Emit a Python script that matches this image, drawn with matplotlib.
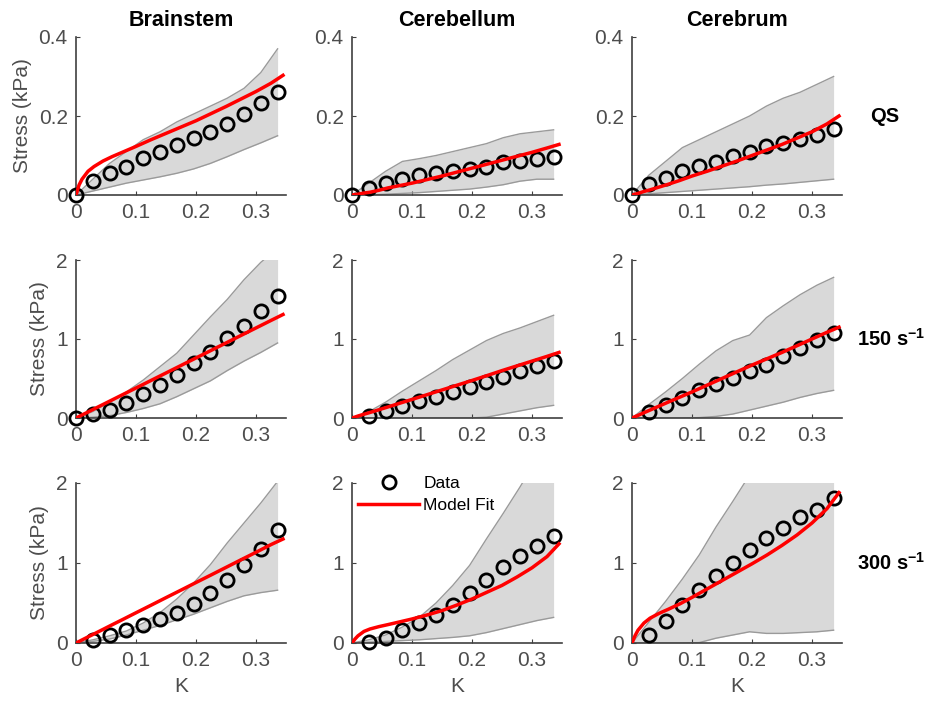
import matplotlib

matplotlib.use("Agg")

import matplotlib.pyplot as plt

plt.rcParams["font.family"] = ["Liberation Sans", "DejaVu Sans"]
plt.rcParams["mathtext.fontset"] = "custom"
plt.rcParams["mathtext.rm"] = "Liberation Sans"
plt.rcParams["mathtext.bf"] = "Liberation Sans:bold"

regions = ["Brainstem", "Cerebellum", "Cerebrum"]
rates = ["QS", "150 s$^{\\mathbf{-1}}$", "300 s$^{\\mathbf{-1}}$"]
y_max = [0.4, 2, 2]
y_ticks = [[0, 0.2, 0.4], [0, 1, 2], [0, 1, 2]]
y_tick_labels = [["0", "0.2", "0.4"], ["0", "1", "2"], ["0", "1", "2"]]
x_ticks = [0, 0.1, 0.2, 0.3]
x_tick_labels = ["0", "0.1", "0.2", "0.3"]

# strain points of the measurements (and of the corridor)
data_x = [0, 0.028, 0.056, 0.084, 0.112, 0.14, 0.168, 0.196, 0.224, 0.252, 0.28, 0.308, 0.336]
fit_x = [0, 0.005, 0.01, 0.02, 0.03, 0.045, 0.06, 0.08, 0.1, 0.125, 0.15, 0.175,
         0.2, 0.225, 0.25, 0.275, 0.3, 0.325, 0.345]

# mean data (kPa)
brainstem_qs = [0, 0.035, 0.055, 0.072, 0.093, 0.11, 0.127, 0.144, 0.16, 0.18, 0.205, 0.232, 0.26]
cerebellum_qs = [0, 0.017, 0.03, 0.04, 0.05, 0.056, 0.06, 0.065, 0.072, 0.083, 0.087, 0.09, 0.097]
cerebrum_qs = [0, 0.027, 0.042, 0.06, 0.073, 0.084, 0.098, 0.108, 0.124, 0.132, 0.142, 0.153, 0.168]
brainstem_150 = [0, 0.05, 0.105, 0.19, 0.3, 0.42, 0.54, 0.695, 0.84, 1.01, 1.16, 1.35, 1.54]
cerebellum_150 = [0.02, 0.085, 0.155, 0.21, 0.265, 0.325, 0.39, 0.455, 0.525, 0.59, 0.655, 0.725]
cerebrum_150 = [0.07, 0.17, 0.25, 0.35, 0.43, 0.51, 0.59, 0.67, 0.78, 0.88, 0.99, 1.07]
brainstem_300 = [0.04, 0.1, 0.16, 0.22, 0.3, 0.38, 0.49, 0.63, 0.79, 0.97, 1.17, 1.41]
cerebellum_300 = [0.01, 0.065, 0.16, 0.255, 0.35, 0.47, 0.63, 0.79, 0.95, 1.09, 1.21, 1.34]
cerebrum_300 = [0.1, 0.28, 0.47, 0.66, 0.84, 1.0, 1.16, 1.31, 1.44, 1.58, 1.66, 1.81]

# model fit (kPa) at fit_x
fit_brainstem_qs = [0, 0.025, 0.04, 0.06, 0.072, 0.086, 0.097, 0.11, 0.123, 0.14, 0.156, 0.172,
                    0.188, 0.206, 0.224, 0.243, 0.262, 0.283, 0.303]
fit_cerebellum_qs = [0, 0.001, 0.002, 0.005, 0.007, 0.012, 0.018, 0.024, 0.03, 0.039, 0.048, 0.058,
                     0.068, 0.078, 0.088, 0.098, 0.108, 0.119, 0.128]
fit_cerebrum_qs = [0, 0.002, 0.004, 0.009, 0.013, 0.02, 0.027, 0.037, 0.048, 0.06, 0.073, 0.086,
                   0.1, 0.114, 0.128, 0.144, 0.16, 0.18, 0.2]
fit_brainstem_150 = [0, 0.019, 0.038, 0.076, 0.114, 0.171, 0.228, 0.304, 0.38, 0.475, 0.57, 0.665,
                     0.76, 0.855, 0.95, 1.045, 1.14, 1.235, 1.31]
fit_cerebellum_150 = [0, 0.012, 0.025, 0.048, 0.07, 0.105, 0.14, 0.188, 0.235, 0.295, 0.355, 0.415,
                      0.475, 0.537, 0.6, 0.66, 0.72, 0.78, 0.83]
fit_cerebrum_150 = [0, 0.017, 0.033, 0.067, 0.1, 0.15, 0.2, 0.265, 0.33, 0.415, 0.5, 0.585,
                    0.67, 0.75, 0.83, 0.915, 1.0, 1.085, 1.15]
fit_brainstem_300 = [0, 0.019, 0.038, 0.076, 0.113, 0.17, 0.227, 0.302, 0.378, 0.472, 0.567, 0.661,
                     0.756, 0.85, 0.945, 1.04, 1.134, 1.23, 1.3]
fit_cerebellum_300 = [0, 0.05, 0.09, 0.145, 0.175, 0.205, 0.23, 0.265, 0.3, 0.35, 0.405, 0.475,
                      0.55, 0.635, 0.72, 0.825, 0.94, 1.08, 1.24]
fit_cerebrum_300 = [0, 0.09, 0.16, 0.25, 0.31, 0.37, 0.42, 0.49, 0.57, 0.675, 0.78, 0.885,
                    0.99, 1.1, 1.22, 1.35, 1.5, 1.68, 1.88]

# corridor bounds (kPa) at data_x
upper_brainstem_qs = [0, 0.04, 0.08, 0.11, 0.14, 0.16, 0.185, 0.205, 0.225, 0.245, 0.27, 0.31, 0.37]
lower_brainstem_qs = [0, 0.01, 0.02, 0.03, 0.038, 0.046, 0.055, 0.066, 0.08, 0.097, 0.115, 0.132, 0.15]
upper_cerebellum_qs = [0, 0.03, 0.06, 0.085, 0.092, 0.1, 0.11, 0.12, 0.13, 0.145, 0.155, 0.16, 0.165]
lower_cerebellum_qs = [0, 0, 0.002, 0.004, 0.006, 0.009, 0.012, 0.015, 0.02, 0.026, 0.035, 0.04, 0.04]
upper_cerebrum_qs = [0, 0.05, 0.085, 0.12, 0.14, 0.16, 0.18, 0.2, 0.225, 0.245, 0.26, 0.28, 0.3]
lower_cerebrum_qs = [0, 0.003, 0.006, 0.009, 0.012, 0.015, 0.018, 0.021, 0.025, 0.028, 0.032, 0.036, 0.04]
upper_brainstem_150 = [0, 0.08, 0.2, 0.33, 0.48, 0.65, 0.82, 1.05, 1.28, 1.5, 1.75, 1.97, 2.15]
lower_brainstem_150 = [0, 0.01, 0.03, 0.07, 0.12, 0.18, 0.27, 0.37, 0.47, 0.6, 0.72, 0.83, 0.95]
upper_cerebellum_150 = [0, 0.08, 0.2, 0.34, 0.47, 0.6, 0.74, 0.86, 0.98, 1.07, 1.14, 1.22, 1.3]
lower_cerebellum_150 = [0, 0, 0, 0, 0, 0, 0, 0, 0.01, 0.05, 0.09, 0.13, 0.16]
upper_cerebrum_150 = [0, 0.17, 0.33, 0.5, 0.68, 0.85, 0.98, 1.05, 1.27, 1.42, 1.56, 1.68, 1.78]
lower_cerebrum_150 = [0, 0, 0, 0, 0.005, 0.02, 0.05, 0.1, 0.15, 0.2, 0.26, 0.31, 0.35]
upper_brainstem_300 = [0, 0.04, 0.09, 0.15, 0.25, 0.38, 0.55, 0.75, 0.98, 1.25, 1.5, 1.75, 2.02]
lower_brainstem_300 = [0, 0.02, 0.05, 0.1, 0.16, 0.22, 0.29, 0.36, 0.44, 0.52, 0.59, 0.63, 0.66]
upper_cerebellum_300 = [0, 0.04, 0.1, 0.2, 0.32, 0.5, 0.72, 0.97, 1.3, 1.62, 1.95, 2.3, 2.6]
lower_cerebellum_300 = [0, 0.01, 0.02, 0.03, 0.04, 0.055, 0.07, 0.09, 0.13, 0.18, 0.23, 0.28, 0.32]
upper_cerebrum_300 = [0, 0.26, 0.52, 0.8, 1.1, 1.45, 1.77, 2.1, 2.4, 2.7, 3.0, 3.3, 3.6]
lower_cerebrum_300 = [0, 0, 0, 0, 0.005, 0.06, 0.1, 0.14, 0.12, 0.12, 0.13, 0.14, 0.16]

data = [
    [brainstem_qs, cerebellum_qs, cerebrum_qs],
    [brainstem_150, cerebellum_150, cerebrum_150],
    [brainstem_300, cerebellum_300, cerebrum_300],
]
fits = [
    [fit_brainstem_qs, fit_cerebellum_qs, fit_cerebrum_qs],
    [fit_brainstem_150, fit_cerebellum_150, fit_cerebrum_150],
    [fit_brainstem_300, fit_cerebellum_300, fit_cerebrum_300],
]
uppers = [
    [upper_brainstem_qs, upper_cerebellum_qs, upper_cerebrum_qs],
    [upper_brainstem_150, upper_cerebellum_150, upper_cerebrum_150],
    [upper_brainstem_300, upper_cerebellum_300, upper_cerebrum_300],
]
lowers = [
    [lower_brainstem_qs, lower_cerebellum_qs, lower_cerebrum_qs],
    [lower_brainstem_150, lower_cerebellum_150, lower_cerebrum_150],
    [lower_brainstem_300, lower_cerebellum_300, lower_cerebrum_300],
]

W, H = 933, 703
fig = plt.figure(figsize=(W / 100, H / 100), dpi=100)

# axes placement in pixels, measured on the reference
lefts = [76, 352, 632]
width = 210
rows_px = [(37, 195), (260, 418), (483, 643)]
rate_label_x = [870, 857, 857]
axis_grey = "#404040"
label_grey = "#4d4d4d"

for r in range(3):
    top, bottom = rows_px[r]
    for c in range(3):
        ax = fig.add_axes([lefts[c] / W, 1 - bottom / H, width / W, (bottom - top) / H])
        ys = data[r][c]
        xs = data_x[len(data_x) - len(ys):]
        ax.fill_between(data_x, lowers[r][c], uppers[r][c], color="#d9d9d9", lw=0)
        ax.plot(data_x, uppers[r][c], color="#9a9a9a", lw=1)
        ax.plot(data_x, lowers[r][c], color="#9a9a9a", lw=1)
        ax.plot(xs, ys, "o", ms=9.5, mfc="none", mec="black", mew=2,
                label="Data", clip_on=False, zorder=4)
        ax.plot(fit_x, fits[r][c], color="red", lw=2.5, label="Model Fit", zorder=5)

        ax.set_xlim(0, 0.35)
        ax.set_ylim(0, y_max[r])
        ax.set_xticks(x_ticks)
        ax.set_xticklabels(x_tick_labels)
        ax.set_yticks(y_ticks[r])
        ax.set_yticklabels(y_tick_labels[r])
        for side in ("top", "right"):
            ax.spines[side].set_visible(False)
        for side in ("left", "bottom"):
            ax.spines[side].set_color(axis_grey)
            ax.spines[side].set_linewidth(1.2)
        ax.tick_params(direction="in", length=3, colors=axis_grey,
                       labelsize=15, labelcolor=label_grey, pad=6)

        if c == 0:
            ax.set_ylabel("Stress (kPa)", fontsize=15, color=label_grey, labelpad=5)
        if r == 2:
            ax.set_xlabel("K", fontsize=15, color=label_grey, labelpad=5)
        if r == 0:
            ax.set_title(regions[c], fontsize=15.5, fontweight="bold", pad=8)
        if c == 2:
            fig.text(rate_label_x[r] / W, 1 - (top + bottom) / 2 / H, rates[r],
                     fontsize=14.5, fontweight="bold", va="center", ha="left")
        if r == 2 and c == 1:
            ax.legend(loc="upper left", bbox_to_anchor=(-0.045, 1.145), frameon=False,
                      fontsize=12.5, handlelength=3.5, handletextpad=0.25,
                      labelspacing=0.4)

fig.savefig("out.png", dpi=100)
